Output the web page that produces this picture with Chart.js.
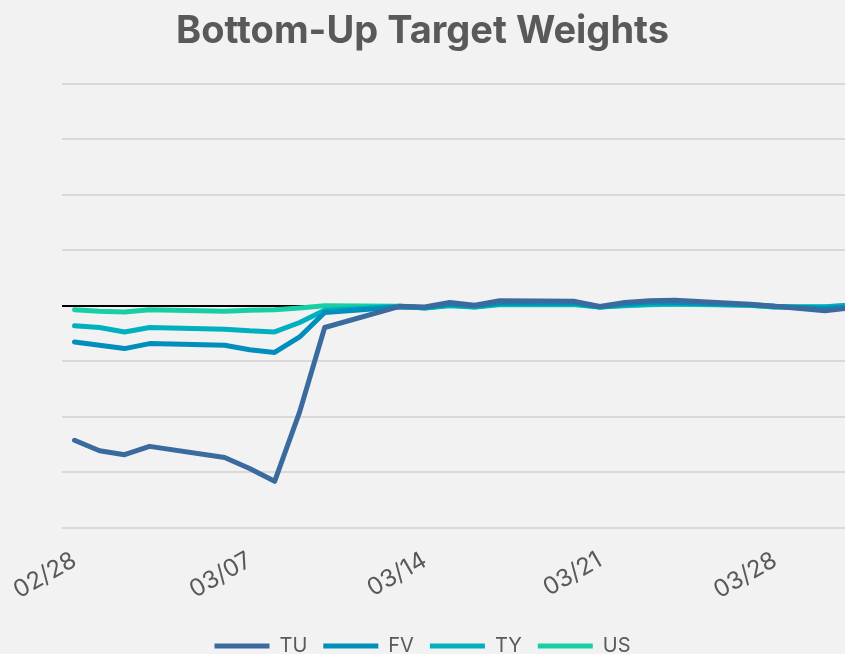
<!DOCTYPE html>
<html>
<head>
<meta charset="utf-8">
<script src="https://cdn.jsdelivr.net/npm/chart.js@4.4.0/dist/chart.umd.min.js"></script>
<style>
  html, body { margin: 0; padding: 0; background: #f2f2f2; overflow: hidden; }
  #wrap { width: 845px; height: 666px; position: relative; }
</style>
</head>
<body>
<div id="wrap"><canvas id="lineCanvas"></canvas></div>
<script>
// trading days (2023), weekends left out
var dates = ["02/28", "03/01", "03/02", "03/03", "03/06", "03/07", "03/08", "03/09", "03/10",
  "03/13", "03/14", "03/15", "03/16", "03/17", "03/20", "03/21", "03/22", "03/23", "03/24",
  "03/27", "03/28", "03/29", "03/30", "03/31"];
var tuValues = [-2.42, -2.61, -2.68, -2.53, -2.73, -2.93, -3.16, -1.91, -0.39,
  -0.01, -0.02, 0.06, 0.01, 0.09, 0.08, -0.01, 0.06, 0.09, 0.10, 0.03, -0.01, -0.05, -0.09, -0.04];
var fvValues = [-0.65, -0.71, -0.77, -0.68, -0.71, -0.79, -0.84, -0.56, -0.12,
  -0.02, -0.03, 0.03, 0.0, 0.05, 0.05, -0.02, 0.03, 0.07, 0.06, 0.02, -0.01, -0.03, -0.05, -0.02];
var tyValues = [-0.36, -0.39, -0.47, -0.39, -0.42, -0.45, -0.47, -0.30, -0.08,
  -0.01, -0.04, 0.01, -0.02, 0.03, 0.03, -0.02, 0.01, 0.03, 0.04, 0.01, -0.02, -0.02, -0.02, 0.01];
var usValues = [-0.07, -0.10, -0.11, -0.07, -0.10, -0.08, -0.07, -0.04, 0.0,
  -0.01, -0.04, 0.0, -0.02, 0.02, 0.02, -0.02, 0.0, 0.02, 0.03, 0.01, -0.02, -0.015, -0.015, 0.01];
var tickLabels = ["02/28", "03/07", "03/14", "03/21", "03/28"];
var seriesNames = ["TU", "FV", "TY", "US"];
var seriesColors = ["#3b6b9e", "#008fbb", "#00b0bf", "#18cfa5"];

// day offset from 02/28
function dayIndex(s) {
  var m = parseInt(s.slice(0, 2), 10), d = parseInt(s.slice(3), 10);
  return m === 3 ? d : d - 28;
}

function toPoints(vals) {
  return vals.map(function (v, i) { return {x: dayIndex(dates[i]), y: v}; });
}

var allValues = [tuValues, fvValues, tyValues, usValues];
var datasets = seriesNames.map(function (name, i) {
  return {
    label: name,
    data: toPoints(allValues[i]),
    borderColor: seriesColors[i],
    backgroundColor: seriesColors[i],
    borderWidth: 5,
    borderCapStyle: "round",
    borderJoinStyle: "round",
    pointRadius: 0,
    tension: 0
  };
});

new Chart("lineCanvas", {
  type: "line",
  data: {datasets: datasets},
  options: {
    responsive: true,
    maintainAspectRatio: false,
    animation: false,
    layout: {padding: 0},
    plugins: {
      tooltip: {enabled: false},
      title: {
        display: true,
        text: "Bottom-Up Target Weights",
        color: "#595959",
        font: {family: "Inter", size: 38, weight: "bold"},
        padding: {top: 9, bottom: 29}
      },
      legend: {
        position: "bottom",
        labels: {
          usePointStyle: true,
          pointStyle: "line",
          pointStyleWidth: 55,
          color: "#595959",
          font: {family: "Inter", size: 20},
          padding: 16
        }
      }
    },
    scales: {
      x: {
        type: "linear",
        min: -0.5,
        max: 30.8,
        grid: {display: false},
        border: {display: false},
        afterBuildTicks: function (axis) {
          axis.ticks = tickLabels.map(function (t, i) { return {value: i * 7}; });
        },
        afterFit: function (axis) { axis.height += 5; },
        ticks: {
          autoSkip: false,
          minRotation: 30,
          maxRotation: 30,
          padding: 10,
          color: "#595959",
          font: {family: "Inter", size: 24},
          callback: function (v) { return tickLabels[Math.round(v / 7)]; }
        }
      },
      y: {
        min: -4,
        max: 4,
        border: {display: false},
        afterFit: function (axis) { axis.width = 62; },
        grid: {
          drawTicks: false,
          lineWidth: 2,
          color: function (ctx) { return ctx.tick && ctx.tick.value === 0 ? "#000000" : "#d9d9d9"; }
        },
        ticks: {display: false, stepSize: 1}
      }
    }
  }
});
</script>
</body>
</html>
